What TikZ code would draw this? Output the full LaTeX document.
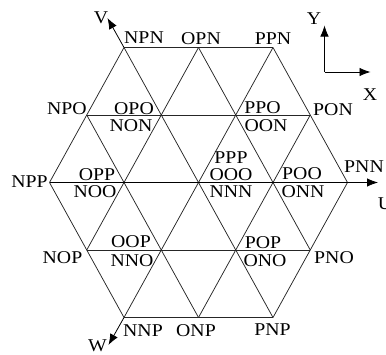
\documentclass[tikz,border=0pt]{standalone}
\usepackage{fontspec}
\setmainfont{Liberation Serif}
\usetikzlibrary{arrows.meta}
\newcommand{\lb}[1]{\scalebox{1.1}[1]{#1}}
\begin{document}
\begin{tikzpicture}[x=1pt,y=-1pt,
  grid/.style={line width=0.75pt,draw=black!85},
  axis/.style={line width=0.8pt,draw=black,-{Latex[length=11pt,width=8.5pt]}},
  lab/.style={inner sep=0pt,font=\fontsize{18}{18}\selectfont}]
\useasboundingbox (0,0) rectangle (386,354);
% lattice vertices
\coordinate (vNPN) at (124,47.5);
\coordinate (vOPN) at (198.5,47.5);
\coordinate (vPPN) at (273,47.5);
\coordinate (vNPO) at (86.75,115);
\coordinate (vOPO) at (161.25,115);
\coordinate (vPPO) at (235.75,115);
\coordinate (vPON) at (310.25,115);
\coordinate (vNPP) at (49.5,182.5);
\coordinate (vOPP) at (124,182.5);
\coordinate (vPPP) at (198.5,182.5);
\coordinate (vPOO) at (273,182.5);
\coordinate (vPNN) at (347.5,182.5);
\coordinate (vNOP) at (86.75,250);
\coordinate (vOOP) at (161.25,250);
\coordinate (vPOP) at (235.75,250);
\coordinate (vPNO) at (310.25,250);
\coordinate (vNNP) at (124,317.5);
\coordinate (vONP) at (198.5,317.5);
\coordinate (vPNP) at (273,317.5);
% axis tips
\coordinate (tU) at (378,182.5);
\coordinate (tV) at (107.5,18);
\coordinate (tW) at (108.5,345);
\coordinate (xyO) at (324.5,72);
\coordinate (tY) at (324.5,25.5);
\coordinate (tX) at (370.5,72);
% horizontal lines
\draw[grid] (vNPN) -- (vPPN);
\draw[grid] (vNPO) -- (vPON);
\draw[grid] (vNOP) -- (vPNO);
\draw[grid] (vNNP) -- (vPNP);
% "\" lines
\draw[grid] (vNPP) -- (vNNP);
\draw[grid] (vNPO) -- (vONP);
\draw[grid] (vOPN) -- (vPNO);
\draw[grid] (vPPN) -- (vPNN);
\draw[grid] (vNPN) -- (vPNP);
% "/" lines
\draw[grid] (vNPP) -- (vNPN);
\draw[grid] (vNOP) -- (vOPN);
\draw[grid] (vONP) -- (vPON);
\draw[grid] (vPNP) -- (vPNN);
\draw[grid] (vNNP) -- (vPPN);
% axes
\draw[axis] (vNPP) -- (tU);
\draw[axis] (vNPN) -- (tV);
\draw[axis] (vNNP) -- (tW);
\draw[axis] (xyO) -- (tY);
\draw[axis] (xyO) -- (tX);
% labels
\node[lab] (lNPN) at (144,38) {\lb{NPN}};
\node[lab] (lOPN) at (201,38.5) {\lb{OPN}};
\node[lab] (lPPN) at (273,39) {\lb{PPN}};
\node[lab] (lNPO) at (67,109) {\lb{NPO}};
\node[lab] (lOPO) at (134,108.5) {\lb{OPO}};
\node[lab] (lNON) at (131,126) {\lb{NON}};
\node[lab] (lPPO) at (262.5,108) {\lb{PPO}};
\node[lab] (lOON) at (266,125.5) {\lb{OON}};
\node[lab] (lPON) at (333,110) {\lb{PON}};
\node[lab] (lPPP) at (231,158) {\lb{PPP}};
\node[lab] (lOOO) at (231,174.5) {\lb{OOO}};
\node[lab] (lNNN) at (231,192) {\lb{NNN}};
\node[lab] (lPOO) at (302,174) {\lb{POO}};
\node[lab] (lONN) at (303,192) {\lb{ONN}};
\node[lab] (lPNN) at (364,167) {\lb{PNN}};
\node[lab] (lNPP) at (29.5,182) {\lb{NPP}};
\node[lab] (lOPP) at (97,174.5) {\lb{OPP}};
\node[lab] (lNOO) at (95,192) {\lb{NOO}};
\node[lab] (lOOP) at (131,242) {\lb{OOP}};
\node[lab] (lNNO) at (132,261) {\lb{NNO}};
\node[lab] (lNOP) at (62.5,258) {\lb{NOP}};
\node[lab] (lPOP) at (263,242.5) {\lb{POP}};
\node[lab] (lONO) at (265,261) {\lb{ONO}};
\node[lab] (lPNO) at (334,258) {\lb{PNO}};
\node[lab] (lNNP) at (143,331) {\lb{NNP}};
\node[lab] (lONP) at (196,331) {\lb{ONP}};
\node[lab] (lPNP) at (272.5,330) {\lb{PNP}};
\node[lab] (lV) at (101,18) {\lb{V}};
\node[lab] (lW) at (97.5,345.5) {\lb{W}};
\node[lab] (lU) at (385,204) {\lb{U}};
\node[lab] (lY) at (314,19) {\lb{Y}};
\node[lab] (lX) at (370,95) {\lb{X}};
\end{tikzpicture}
\end{document}
